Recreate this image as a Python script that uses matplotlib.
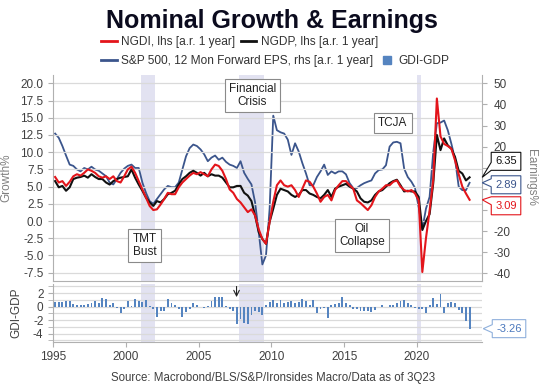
import numpy as np
import matplotlib
matplotlib.use('Agg')
import matplotlib.pyplot as plt
from matplotlib.path import Path
from matplotlib.lines import Line2D
from matplotlib.ticker import MultipleLocator, FormatStrFormatter, FixedLocator, FixedFormatter

plt.rcParams['font.family'] = ['Liberation Sans', 'DejaVu Sans']
plt.rcParams['axes.unicode_minus'] = False

# Quarterly, 1Q95 - 3Q23, y/y %
start_year = 1995.125

ngdi = [6.4, 5.6, 5.8, 5.1, 5.7, 6.5, 6.8, 6.6, 7.0, 7.5, 7.3, 7.0,
        6.5, 6.3, 6.5, 6.1, 6.5, 5.8, 5.6, 6.5, 7.5, 7.9, 7.0, 5.8,
        4.6, 3.4, 2.2, 1.6, 1.7, 2.4, 3.2, 4.1, 3.9, 3.9, 4.9, 5.6,
        6.1, 6.6, 7.0, 6.8, 7.1, 6.8, 6.5, 7.5, 8.2, 8.0, 7.3, 6.1,
        4.6, 4.1, 3.2, 2.7, 2.0, 1.3, 1.7, 0.8, -1.2, -2.6, -3.3, -0.1,
        2.8, 5.2, 5.9, 5.2, 5.0, 5.2, 4.5, 3.5, 4.7, 5.9, 5.7, 5.0,
        4.0, 2.8, 3.5, 3.8, 3.0, 4.5, 5.2, 5.8, 5.8, 5.2, 4.7, 3.0,
        2.6, 2.1, 1.6, 2.3, 3.5, 4.3, 4.7, 5.2, 5.2, 5.7, 5.9, 5.0,
        4.5, 4.3, 4.5, 4.0, 3.0, -7.4, -2.5, 1.5, 6.0, 17.8, 12.3, 11.2,
        10.9, 10.5, 8.8, 6.8, 5.0, 4.0, 3.09]

ngdp = [5.8, 4.9, 5.1, 4.4, 4.9, 6.1, 6.3, 6.4, 6.6, 6.3, 6.8, 6.4,
        6.1, 6.1, 5.6, 5.3, 5.8, 6.1, 6.3, 6.4, 6.5, 7.5, 6.3, 5.3,
        4.4, 3.4, 2.7, 2.2, 2.9, 2.7, 3.2, 3.9, 4.1, 4.4, 5.3, 6.1,
        6.5, 7.0, 7.3, 7.0, 6.6, 7.0, 6.5, 6.8, 6.6, 6.6, 6.3, 5.6,
        4.9, 4.9, 5.1, 5.1, 4.1, 3.7, 2.9, 0.8, -1.6, -2.6, -3.3, -0.1,
        1.8, 3.8, 4.7, 4.5, 4.3, 3.8, 3.5, 3.8, 4.5, 4.5, 4.0, 3.8,
        3.5, 3.3, 3.8, 4.5, 3.5, 4.7, 5.0, 5.2, 5.4, 5.0, 4.7, 4.3,
        3.3, 2.8, 2.7, 3.0, 3.8, 4.3, 4.5, 5.0, 5.5, 5.8, 6.0, 5.2,
        4.3, 4.4, 4.3, 4.3, 3.5, -1.3, 0.0, 1.0, 5.5, 12.5, 10.3, 12.0,
        11.0, 10.5, 9.3, 7.3, 6.9, 5.9, 6.35]

eps_fwd = [26.2, 24.2, 20.3, 15.8, 11.5, 10.9, 9.2, 8.3, 9.9, 9.2, 10.5, 9.2,
           8.6, 7.3, 6.0, 3.0, 2.1, 4.7, 7.6, 9.6, 10.9, 11.5, 9.9, 9.9,
           3.0, -1.9, -5.8, -7.1, -4.8, -2.5, -0.2, 1.4, 0.8, 0.8, 3.0, 9.2,
           15.4, 19.3, 21.0, 20.3, 18.7, 16.4, 13.1, 14.8, 15.8, 13.8, 14.8, 12.8,
           11.5, 10.9, 9.9, 13.1, 7.6, 4.7, 2.1, -6.4, -20.4, -35.8, -31.5, -9.4,
           34.7, 27.8, 26.8, 26.2, 23.3, 16.1, 21.6, 17.7, 12.2, 7.3, 1.7, 1.7,
           5.6, 8.3, 11.5, 6.6, 8.3, 7.3, 8.3, 8.3, 6.9, 2.7, 0.4, 0.4,
           1.7, 2.7, 3.4, 4.0, 7.3, 8.9, 9.2, 11.2, 20.0, 22.0, 22.3, 21.6,
           9.6, 5.6, 3.4, 0.4, -8.7, -19.1, -9.4, -3.8, 17.4, 31.1, 31.4, 32.4,
           27.8, 21.3, 14.1, 1.1, -0.6, -0.6, 2.89]

gdi_gdp = [0.7, 0.7, 0.7, 0.8, 0.9, 0.4, 0.3, 0.3, 0.3, 0.4, 0.6, 0.8,
           0.5, 1.3, 1.2, 0.2, 0.6, -0.2, -0.9, -0.4, 0.8, 0.1, 1.2, 0.8,
           0.7, 1.0, 0.1, -0.3, -1.5, -0.6, -0.6, 1.2, 0.5, 0.2, -0.3, -1.6,
           -0.8, -0.3, 0.6, 0.3, 0.0, -0.2, 0.1, 0.9, 1.5, 1.4, 1.5, 0.1,
           -0.4, -0.7, -2.5, -1.9, -2.4, -2.6, -1.3, -0.6, -0.8, -1.2, 0.3, 0.7,
           1.0, 0.6, 1.0, 0.6, 0.7, 0.8, 0.5, 0.7, 1.2, 0.9, 0.2, 1.0,
           -0.9, -0.3, -0.2, -1.7, 0.2, 0.4, 0.6, 1.4, 0.5, 0.2, -0.3, -0.4,
           -0.6, -0.7, -0.7, -0.8, -0.5, 0.0, 0.2, 0.0, 0.2, 0.3, 0.5, 0.8,
           1.0, 0.5, 0.3, -0.2, -0.3, -0.4, -1.0, 0.2, 1.3, 0.4, 1.9, -1.0,
           0.5, 0.7, 0.6, -0.5, -1.0, -2.1, -3.26]

recessions = [(2001.0, 2002.0), (2007.75, 2009.5), (2020.0, 2020.25)]
events = [('Financial\nCrisis', 2008.70, 18.2),
          ('TMT\nBust', 2001.26, -3.6),
          ('Oil\nCollapse', 2016.23, -2.06),
          ('TCJA', 2018.34, 14.2)]
arrow_year = 2007.6
year_ticks = [1995, 2000, 2005, 2010, 2015, 2020]
# right-axis ticks; the ones behind the value boxes carry no label
rhs_ticks = [50, 40, 30, 20, 10, 0, -10, -20, -30, -40]
rhs_labels = ['50', '40', '30', '20', '', '', '', '-20', '-30', '-40']

quarters = start_year + 0.25 * np.arange(len(ngdi))

RED = '#e3151b'
BLACK = '#111111'
BLUE = '#3b558c'
BAR = '#5584c0'
SHADE = '#e2e2f1'
GRID = '#dadada'
SPINE = '#b0b0b0'
TXT = '#404040'


class Callout:
    """Square box with a small pointer on its left side."""
    def __init__(self, tip_dy=0.0, tip_len=9, pad=4, half=4):
        self.tip_dy, self.tip_len, self.pad, self.half = tip_dy, tip_len, pad, half

    def __call__(self, x0, y0, width, height, mutation_size):
        p = self.pad
        x0, y0 = x0 - p, y0 - p
        x1, y1 = x0 + width + 2 * p, y0 + height + 2 * p
        ty = (y0 + y1) / 2 + self.tip_dy
        nc = min(max(ty, y0 + self.half), y1 - self.half)
        verts = [(x0, y0), (x1, y0), (x1, y1), (x0, y1),
                 (x0, nc + self.half), (x0 - self.tip_len, ty),
                 (x0, nc - self.half), (x0, y0)]
        return Path(verts, closed=True)


fig = plt.figure(figsize=(5.43, 3.87), dpi=100)
ax = fig.add_axes([0.0967, 0.2747, 0.791, 0.5315])
ax2 = ax.twinx()
ax.set_zorder(ax2.get_zorder() + 1)
ax.patch.set_visible(False)
bx = fig.add_axes([0.0967, 0.1171, 0.791, 0.1491])

xlim = (1994.945, 2024.48)
for r0, r1 in recessions:
    ax2.axvspan(r0, r1, color=SHADE, lw=0, zorder=0)
    bx.axvspan(r0, r1, color=SHADE, lw=0, zorder=0)

ax2.plot(quarters, eps_fwd, color=BLUE, lw=1.3, zorder=2)
ax.plot(quarters, ngdp, color=BLACK, lw=1.5, zorder=3)
ax.plot(quarters, ngdi, color=RED, lw=1.5, zorder=4)

ax.set_xlim(*xlim)
ax.set_ylim(-8.66, 21.21)
ax2.set_ylim(-43.5, 53.95)
ax.yaxis.set_major_locator(MultipleLocator(2.5))
ax.yaxis.set_major_formatter(FormatStrFormatter('%.1f'))
ax2.yaxis.set_major_locator(FixedLocator(rhs_ticks))
ax2.yaxis.set_major_formatter(FixedFormatter(rhs_labels))
ax.grid(axis='y', color=GRID, lw=0.9)
ax.set_xticks([])

for sp in ('top', 'right'):
    ax.spines[sp].set_visible(False)
for sp in ('top', 'left', 'bottom'):
    ax2.spines[sp].set_visible(False)
ax2.spines['right'].set_color(SPINE)
ax.spines['left'].set_color(SPINE)
ax.spines['bottom'].set_color(SPINE)

ax.tick_params(axis='y', labelsize=8.5, labelcolor=TXT, color=SPINE, length=3.5, pad=3)
ax2.tick_params(axis='y', labelsize=8.5, labelcolor=TXT, color=SPINE, length=3.5, pad=5)
ax2.set_xticks([])

ax.set_ylabel('Growth%', fontsize=8.5, color='#808080')
ax.yaxis.set_label_coords(-0.094, 0.5)
ax2.set_ylabel('Earnings%', fontsize=8.5, color='#808080', rotation=270, va='center')
ax2.yaxis.set_label_coords(1.114, 0.5)

for label, yr, val in events:
    ax.text(yr, val, label, ha='center', va='center', fontsize=8.5, color='#222222',
            linespacing=1.1, zorder=6,
            bbox=dict(boxstyle='square,pad=0.35', fc='white', ec='#8a8a8a', lw=0.8))

# last-value callouts
callouts = [(f'{ngdp[-1]:.2f}', ngdp[-1], ax.transData, BLACK, BLACK, 16),
            (f'{eps_fwd[-1]:.2f}', eps_fwd[-1], ax2.transData, BLUE, BLUE, -2),
            (f'{ngdi[-1]:.2f}', ngdi[-1], ax.transData, RED, RED, -6)]
for txt, val, ytr, ec, tc, dy in callouts:
    ax2.annotate(txt, xy=(1, val), xycoords=(ax2.transAxes, ytr),
                 xytext=(24, dy), textcoords='offset pixels', ha='center', va='center',
                 fontsize=8, color=tc, annotation_clip=False, zorder=8,
                 bbox=dict(boxstyle=Callout(tip_dy=-dy), fc='white', ec=ec, lw=0.8))

# GDI-GDP panel
bx.bar(quarters, gdi_gdp, width=0.13, color=BAR, zorder=2)
bx.set_xlim(*xlim)
bx.set_ylim(-5.19, 3.36)
bx.yaxis.set_major_locator(MultipleLocator(2))
bx.yaxis.set_minor_locator(MultipleLocator(1))
bx.yaxis.set_major_formatter(FormatStrFormatter('%d'))
bx.grid(axis='y', which='both', color=GRID, lw=0.9)
bx.set_axisbelow(True)
bx.set_xticks(year_ticks)
for sp in ('top', 'right'):
    bx.spines[sp].set_visible(False)
bx.spines['left'].set_color(SPINE)
bx.spines['bottom'].set_color(SPINE)
bx.tick_params(axis='both', which='both', labelsize=8.5, labelcolor=TXT, color=SPINE, length=3.5, pad=3)
bx.set_ylabel('GDI-GDP', fontsize=8.5, color=TXT)
bx.yaxis.set_label_coords(-0.069, 0.5)

bx.annotate('', xy=(arrow_year, 1.0), xytext=(arrow_year, 3.4),
            arrowprops=dict(arrowstyle='->', color='#222222', lw=0.8), annotation_clip=False)
bx.annotate(f'{gdi_gdp[-1]:.2f}', xy=(1, gdi_gdp[-1]), xycoords=('axes fraction', 'data'),
            xytext=(27, 0), textcoords='offset pixels', ha='center', va='center',
            fontsize=8, color='#4a78bd', annotation_clip=False,
            bbox=dict(boxstyle=Callout(), fc='white', ec='#8fb0dc', lw=0.8))

# title, legend, source
fig.text(0.5, 1 - 28 / 387, 'Nominal Growth & Earnings', ha='center', va='baseline',
         fontsize=18, fontweight='bold', color='#0b0b1e')

h1 = [Line2D([], [], color=RED, lw=2), Line2D([], [], color=BLACK, lw=2)]
h2 = [Line2D([], [], color=BLUE, lw=2),
      Line2D([], [], color=BAR, marker='s', ls='none', markersize=6)]
leg_kw = dict(loc='center left', ncol=2, frameon=False, fontsize=8.6, labelcolor='#333333',
              handlelength=1.3, handletextpad=0.35, columnspacing=0.5,
              borderpad=0, borderaxespad=0)
fig.legend(h1, ['NGDI, lhs [a.r. 1 year]', 'NGDP, lhs [a.r. 1 year]'],
           bbox_to_anchor=(101 / 543, 1 - 41.8 / 387), **leg_kw)
fig.legend(h2, ['S&P 500, 12 Mon Forward EPS, rhs [a.r. 1 year]', 'GDI-GDP'],
           bbox_to_anchor=(101 / 543, 1 - 61 / 387), **leg_kw)

fig.text(0.503, 1 - 378 / 387, 'Source: Macrobond/BLS/S&P/Ironsides Macro/Data as of 3Q23',
         ha='center', va='center', fontsize=8.3, color=TXT)

fig.savefig('out.png', dpi=100)
